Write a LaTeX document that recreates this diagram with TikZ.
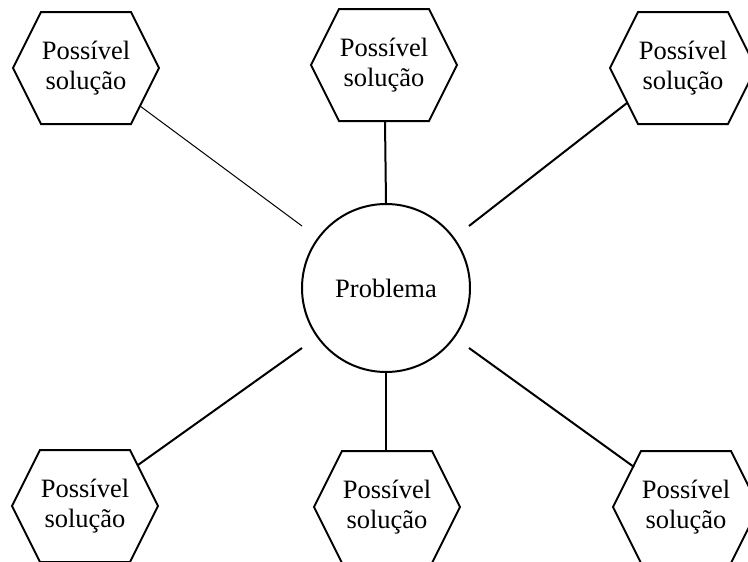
\documentclass[tikz,border=0pt]{standalone}
\usepackage{fontspec}
\setmainfont{Liberation Serif}
\usetikzlibrary{calc}
\tikzset{
  txt/.style={align=center, inner sep=0pt, font=\fontsize{26.5}{30}\selectfont},
  outline/.style={line width=2pt, line join=miter},
  link/.style={line width=2pt},
  thinlink/.style={line width=1pt},
  probnode/.style={circle, draw, line width=2pt, minimum size=168pt, inner sep=0pt, font=\fontsize{26.5}{30}\selectfont}
}
\newcommand\hexa[3]{%
  \node[txt] (#1) at (#2,#3) {Possível\\solução};
  \draw[outline] ($(#1.center)+(-73,0)$) -- ++(28,-56) -- ++(90,0) -- ++(28,56) -- ++(-28,56) -- ++(-90,0) -- cycle;
}
\begin{document}
\begin{tikzpicture}[x=1pt,y=-1pt]
\useasboundingbox (0,0) rectangle (748,562);
\fill[white] (0,0) rectangle (748,562);
\node[probnode] (prob) at (386,288) {Problema};
\hexa{h1}{86}{68}
\hexa{h2}{384}{65}
\hexa{h3}{683}{68}
\hexa{h4}{85}{506}
\hexa{h5}{387}{507}
\hexa{h6}{686}{507}
\coordinate (e1) at (140,106);
\coordinate (f1) at (302,226);
\coordinate (e2) at (385,121);
\coordinate (e3) at (627,103);
\coordinate (f3) at (469,226);
\coordinate (e4) at (138,465);
\coordinate (f4) at (302,348);
\coordinate (e5) at (386,451);
\coordinate (e6) at (634,467);
\coordinate (f6) at (469,348);
\draw[thinlink] (e1) -- (f1);
\draw[link] (e2) -- (prob.north);
\draw[link] (e3) -- (f3);
\draw[link] (e4) -- (f4);
\draw[link] (prob.south) -- (e5);
\draw[link] (e6) -- (f6);
\end{tikzpicture}
\end{document}
